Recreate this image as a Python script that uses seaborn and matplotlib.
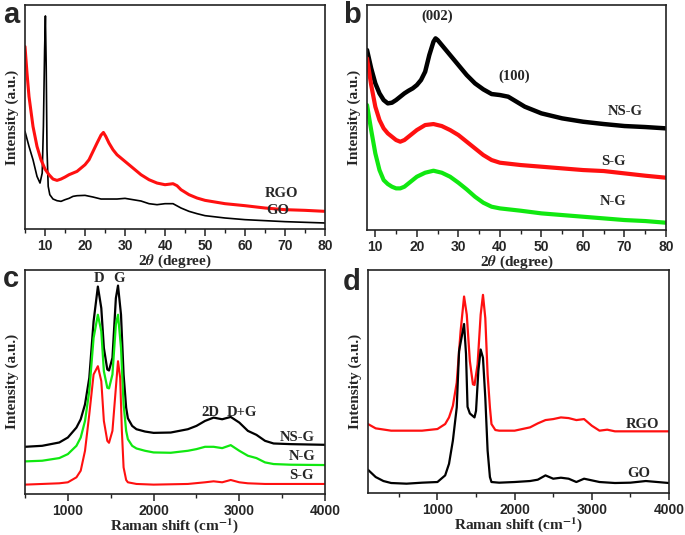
import matplotlib
matplotlib.use("Agg")
import matplotlib.pyplot as plt
from matplotlib.ticker import MultipleLocator
import pandas as pd
import seaborn as sns

sns.set_theme(style="ticks")
plt.rcParams['font.family'] = ['Liberation Sans', 'DejaVu Sans']
plt.rcParams['font.weight'] = 'bold'
plt.rcParams['mathtext.fontset'] = 'stix'

RED = '#ff1010'
GREEN = '#10e810'
BLACK = '#000000'

# ---- panel a: XRD of GO and RGO (intensity in arbitrary units) ----
go_a_2theta = [5, 6, 7, 8, 8.75, 9.3, 9.6, 9.9, 10.1, 10.3, 10.5, 10.8, 11.2, 12,
               13, 14, 15, 16, 17, 18, 20, 22, 24, 26, 28, 30, 32, 34, 36, 38,
               40, 42, 44, 46, 48, 50, 55, 60, 65, 70, 75, 80]
go_a_int = [293, 248, 208, 158, 138, 168, 308, 538, 640, 488, 238, 128, 103, 90,
            85, 83, 88, 92, 98, 100, 101, 96, 90, 90, 90, 92, 88, 84, 76, 73,
            76, 76, 63, 53, 46, 40, 33, 28, 25, 22, 20, 18]
rgo_a_2theta = [5, 5.5, 6, 7, 8, 9, 10, 11, 12, 13, 14, 15, 16, 17, 18, 19, 20,
                21, 22, 23, 24, 24.6, 25.2, 26, 27, 28, 29, 30, 32, 34, 36, 38,
                40, 42, 43, 44, 46, 48, 50, 55, 60, 65, 70, 75, 80]
rgo_a_int = [548, 468, 398, 308, 248, 208, 180, 163, 150, 146, 150, 156, 163,
             168, 173, 183, 193, 208, 233, 258, 282, 290, 278, 258, 238, 223,
             213, 203, 183, 163, 148, 138, 133, 136, 130, 118, 103, 93, 86, 76,
             70, 63, 58, 56, 53]

# ---- panel b: XRD of doped graphenes ----
b_2theta = [8, 9, 10, 11, 12, 13, 14, 15, 16, 17, 18, 19, 20, 21, 22, 23, 24,
            24.5, 25, 26, 27, 28, 29, 30, 32, 34, 36, 38, 40, 42, 44, 46, 48, 50,
            55, 60, 65, 70, 75, 80]
nsg_b_int = [540, 485, 440, 410, 390, 380, 382, 390, 400, 410, 418, 425, 435,
             450, 475, 525, 565, 575, 570, 555, 540, 525, 510, 495, 465, 440,
             422, 408, 405, 400, 385, 370, 360, 350, 335, 325, 318, 312, 309, 305]
sg_b_2theta = [8, 9, 10, 11, 12, 13, 14, 15, 16, 17, 18, 19, 20, 22, 24, 26, 28,
               30, 32, 34, 36, 38, 40, 45, 50, 55, 60, 65, 70, 75, 80]
sg_b_int = [515, 435, 370, 330, 305, 290, 280, 270, 265, 270, 280, 290, 300,
            315, 318, 312, 300, 285, 265, 245, 225, 210, 202, 195, 190, 185,
            180, 177, 170, 163, 157]
ng_b_int = [375, 300, 230, 180, 150, 138, 130, 125, 125, 130, 140, 150, 160,
            172, 178, 172, 160, 142, 122, 100, 82, 70, 65, 58, 50, 45, 40, 35,
            30, 27, 22]

# ---- panel c: Raman of doped graphenes ----
c_shift = [500, 700, 900, 1000, 1100, 1150, 1200, 1250, 1300, 1350, 1390, 1420,
           1460, 1480, 1520, 1560, 1585, 1620, 1650, 1680, 1700, 1750, 1800,
           1900, 2000, 2200, 2400, 2500, 2600, 2700, 2800, 2900, 3000, 3100,
           3200, 3300, 3400, 3600, 4000]
nsg_c_int = [142, 145, 155, 170, 200, 225, 270, 350, 520, 625, 560, 440, 375,
             372, 410, 590, 628, 540, 360, 260, 228, 205, 195, 188, 184, 185,
             195, 205, 220, 230, 225, 232, 215, 190, 178, 160, 152, 150, 148]
ng_c_int = [98, 100, 108, 120, 145, 170, 220, 310, 470, 540, 490, 370, 320, 318,
            360, 510, 540, 440, 270, 190, 165, 145, 137, 130, 125, 124, 130,
            135, 142, 142, 138, 147, 130, 115, 108, 95, 90, 88, 87]
sg_c_shift = [500, 700, 900, 1000, 1100, 1150, 1200, 1250, 1300, 1350, 1390,
              1420, 1460, 1480, 1520, 1560, 1585, 1610, 1630, 1650, 1680, 1700,
              1800, 2000, 2400, 2600, 2700, 2800, 2900, 3000, 3100, 3300, 4000]
sg_c_int = [28, 30, 32, 35, 50, 70, 130, 240, 360, 385, 340, 220, 160, 154, 190,
            320, 400, 350, 190, 80, 42, 35, 30, 28, 30, 35, 38, 35, 42, 35, 32,
            30, 30]

# ---- panel d: Raman of GO and RGO ----
rgo_d_shift = [100, 200, 400, 600, 800, 1000, 1100, 1150, 1200, 1250, 1300,
               1345, 1380, 1420, 1460, 1480, 1520, 1560, 1590, 1620, 1650, 1680,
               1700, 1750, 1800, 2000, 2200, 2300, 2400, 2500, 2600, 2700, 2800,
               2900, 3000, 3100, 3200, 3300, 3500, 4000]
rgo_d_int = [208, 195, 188, 188, 188, 193, 208, 228, 263, 333, 488, 593, 538,
             398, 328, 326, 388, 538, 598, 528, 358, 258, 208, 190, 188, 188,
             198, 210, 220, 223, 228, 226, 220, 223, 203, 188, 191, 186, 186, 186]
go_d_shift = [100, 200, 300, 400, 600, 800, 1000, 1100, 1150, 1200, 1250, 1280,
              1345, 1370, 1390, 1420, 1480, 1500, 1530, 1560, 1590, 1620, 1650,
              1680, 1700, 1800, 2000, 2200, 2300, 2400, 2450, 2500, 2600, 2700,
              2800, 2900, 3000, 3100, 3300, 3500, 3700, 4000]
go_d_int = [70, 48, 36, 30, 28, 31, 33, 53, 88, 158, 258, 428, 510, 420, 260,
            240, 228, 248, 368, 433, 408, 288, 128, 48, 33, 31, 33, 36, 40, 53,
            48, 43, 46, 43, 33, 43, 38, 33, 30, 31, 36, 30]

SERIF = dict(family='Liberation Serif', fontweight='bold')

fig = plt.figure(figsize=(6.85, 5.35), dpi=100)
ax_a = fig.add_axes([0.0365, 0.572, 0.438, 0.4187])
ax_b = fig.add_axes([0.5358, 0.570, 0.4365, 0.4206])
ax_c = fig.add_axes([0.0365, 0.0768, 0.438, 0.4186])
ax_d = fig.add_axes([0.5372, 0.0786, 0.4394, 0.4167])


def draw(ax, x, y, color, lw):
    df = pd.DataFrame({'x': x, 'y': y})
    sns.lineplot(data=df, x='x', y='y', ax=ax, color=color, lw=lw,
                 estimator=None, sort=False)


draw(ax_a, go_a_2theta, go_a_int, BLACK, 1.2)
draw(ax_a, rgo_a_2theta, rgo_a_int, RED, 2.2)

draw(ax_b, b_2theta, nsg_b_int, BLACK, 3.2)
draw(ax_b, sg_b_2theta, sg_b_int, RED, 3.0)
draw(ax_b, sg_b_2theta, ng_b_int, GREEN, 3.0)

draw(ax_c, c_shift, nsg_c_int, BLACK, 1.6)
draw(ax_c, c_shift, ng_c_int, GREEN, 1.6)
draw(ax_c, sg_c_shift, sg_c_int, RED, 1.5)

draw(ax_d, rgo_d_shift, rgo_d_int, RED, 1.6)
draw(ax_d, go_d_shift, go_d_int, BLACK, 1.6)

limits = {ax_a: (5, 80, 673, 10, 5), ax_b: (8, 80, 675, 10, 5),
          ax_c: (500, 4000, 675, 1000, 500), ax_d: (100, 4000, 673, 1000, 500)}
for ax, (x0, x1, ytop, major, minor) in limits.items():
    ax.set_xlim(x0, x1)
    ax.set_ylim(0, ytop)
    ax.set_yticks([])
    ax.xaxis.set_major_locator(MultipleLocator(major))
    ax.xaxis.set_minor_locator(MultipleLocator(minor))
    ax.tick_params(axis='x', which='major', direction='out', length=5,
                   width=1.1, labelsize=10, pad=2, color='#222222')
    ax.tick_params(axis='x', which='minor', direction='out', length=3,
                   width=1.0, color='#222222')
    for lab in ax.get_xticklabels():
        lab.set_fontweight('bold')
    for sp in ax.spines.values():
        sp.set_visible(True)
        sp.set_linewidth(1.2)
        sp.set_color('#222222')
    ax.set_ylabel('Intensity (a.u.)', fontsize=11, labelpad=4, **SERIF)

for ax in (ax_a, ax_b):
    ax.set_xlabel(r'2$\mathit{\theta}$ (degree)', fontsize=11, labelpad=0,
                  **SERIF)
for ax in (ax_c, ax_d):
    ax.set_xlabel(r'Raman shift (cm$^{\mathbf{-1}}$)', fontsize=11,
                  labelpad=-1, **SERIF)

# curve labels
lab_kw = dict(ha='center', va='center', fontsize=10.5, **SERIF)
ax_a.text(69.2, 108, 'RGO', **lab_kw)
ax_a.text(68.2, 56, 'GO', **lab_kw)
ax_b.text(24.9, 640, '(002)', **lab_kw)
ax_b.text(43.4, 462, '(100)', **lab_kw)
ax_b.text(70.1, 355, 'NS-G', **lab_kw)
ax_b.text(67.3, 205, 'S-G', **lab_kw)
ax_b.text(67.3, 85, 'N-G', **lab_kw)
ax_c.text(1367, 648, 'D', **lab_kw)
ax_c.text(1593, 648, 'G', **lab_kw)
ax_c.text(2659, 245, '2D', **lab_kw)
ax_c.text(3036, 245, 'D+G', **lab_kw)
ax_c.text(3670, 170, 'NS-G', **lab_kw)
ax_c.text(3728, 112, 'N-G', **lab_kw)
ax_c.text(3728, 55, 'S-G', **lab_kw)
ax_d.text(3654, 208, 'RGO', **lab_kw)
ax_d.text(3611, 58, 'GO', **lab_kw)

# panel letters
let_kw = dict(fontsize=21, fontweight='bold', family='Liberation Sans',
              va='baseline', ha='left')
fig.text(3 / 685, 1 - 23 / 535, 'a', **let_kw)
fig.text(343 / 685, 1 - 23 / 535, 'b', **let_kw)
fig.text(3 / 685, 1 - 287 / 535, 'c', **let_kw)
fig.text(343 / 685, 1 - 290 / 535, 'd', **let_kw)

fig.savefig('out.png', dpi=100)
